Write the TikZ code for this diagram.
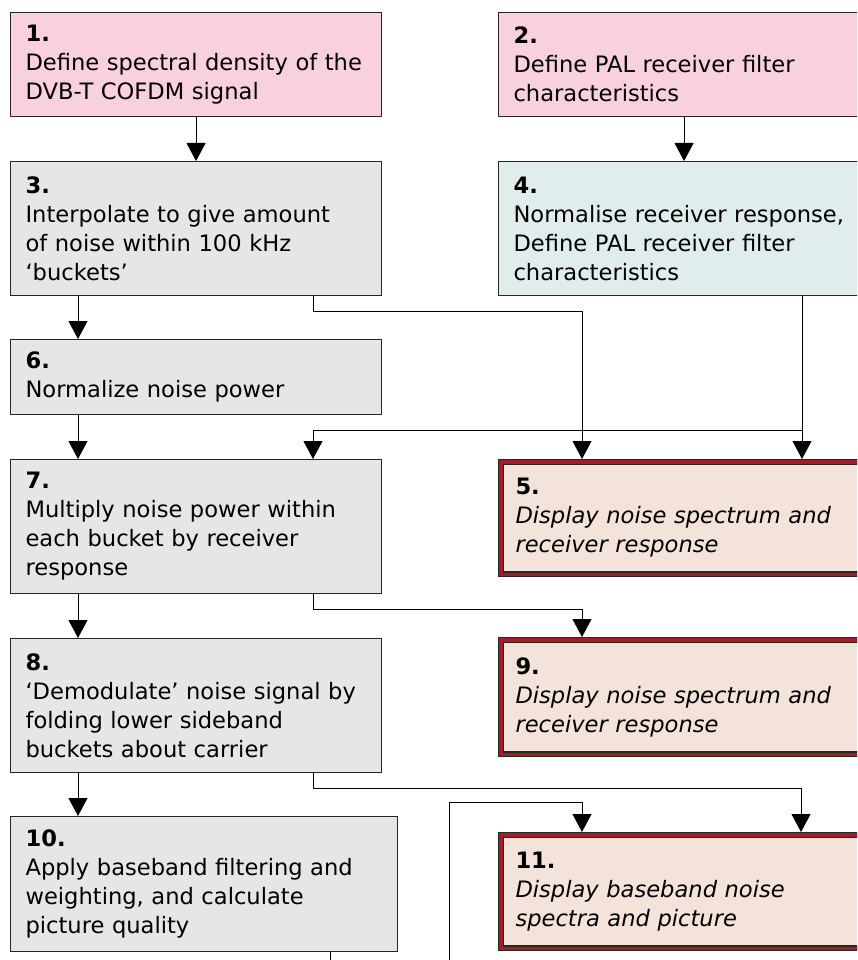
\documentclass[tikz,border=0pt]{standalone}
\usepackage{fontspec}
\setmainfont{DejaVu Sans}
\usetikzlibrary{arrows.meta}
\definecolor{boxpink}{RGB}{248,208,222}
\definecolor{boxgrey}{RGB}{230,230,230}
\definecolor{boxblue}{RGB}{225,236,236}
\definecolor{boxpeach}{RGB}{244,227,218}
\definecolor{bandred}{RGB}{165,28,40}
\tikzset{
  stage/.style={rectangle, draw=black!85, line width=1.1pt, anchor=north west, align=left,
    inner xsep=15pt, inner ysep=0pt, font=\fontsize{22.6}{29}\selectfont,
    minimum width=371pt, text width=341pt},
  define/.style={stage, fill=boxpink},
  task/.style={stage, fill=boxgrey},
  display/.style={stage, fill=boxpeach, double=bandred, double distance=3.4pt, outer sep=2.8pt,
    minimum width=365.4pt, text width=336pt, inner xsep=14.7pt,
    font=\fontsize{22.6}{29}\selectfont\itshape},
  link/.style={draw=black, line width=1pt},
  arr/.style={link, -{Triangle[width=19pt,length=18pt]}}
}
\begin{document}
\begin{tikzpicture}[x=1pt,y=-1pt]
  \useasboundingbox (0,0) rectangle (857,960);
  \clip (0,0) rectangle (857,960);
  \node[define, minimum height=104pt] (b1) at (10,12) {\textbf{1.}\\Define spectral density of the\\DVB-T COFDM signal};
  \node[define, minimum height=104pt] (b2) at (498,12) {\textbf{2.}\\Define PAL receiver filter\\characteristics};
  \node[task, minimum height=134pt] (b3) at (10,161) {\textbf{3.}\\Interpolate to give amount\\of noise within 100 kHz\\‘buckets’};
  \node[task, fill=boxblue, minimum height=134pt] (b4) at (498,161) {\textbf{4.}\\Normalise receiver response,\\Define PAL receiver filter\\characteristics};
  \node[task, minimum height=75pt] (b6) at (10,339) {\textbf{6.}\\Normalize noise power};
  \node[task, minimum height=134pt] (b7) at (10,459) {\textbf{7.}\\Multiply noise power within\\each bucket by receiver\\response};
  \node[display, minimum height=112.4pt] (b5) at (498,459) {\textbf{\upshape 5.}\\Display noise spectrum and\\receiver response};
  \node[task, minimum height=134pt] (b8) at (10,638) {\textbf{8.}\\‘Demodulate’ noise signal by\\folding lower sideband\\buckets about carrier};
  \node[display, minimum height=114.4pt] (b9) at (498,637) {\textbf{\upshape 9.}\\Display noise spectrum and\\receiver response};
  \node[task, minimum width=387pt, text width=357pt, minimum height=135pt] (b10) at (10,816) {\textbf{10.}\\Apply baseband filtering and\\weighting, and calculate\\picture quality};
  \node[display, minimum height=113.4pt] (b11) at (498,832) {\textbf{\upshape 11.}\\Display baseband noise\\spectra and picture};

  \draw[arr] (b1) -- (b3);
  \draw[arr] (b2) -- (b4);
  \draw[arr] ([xshift=68pt]b3.south west) -- ([xshift=68pt]b6.north west);
  \draw[arr] ([xshift=303pt]b3.south west) -- ++(0,15) -| ([xshift=84pt]b5.north west);
  \draw[arr] ([xshift=304pt]b4.south west) -- ([xshift=304pt]b5.north west);
  \draw[arr] ([xshift=304pt]b4.south west) ++(0,134) -| ([xshift=303pt]b7.north west);
  \draw[arr] ([xshift=68pt]b6.south west) -- ([xshift=68pt]b7.north west);
  \draw[arr] ([xshift=68pt]b7.south west) -- ([xshift=68pt]b8.north west);
  \draw[arr] ([xshift=303pt]b7.south west) -- ++(0,15) -| ([xshift=84pt]b9.north west);
  \draw[arr] ([xshift=68pt]b8.south west) -- ([xshift=68pt]b10.north west);
  \draw[arr] ([xshift=303pt]b8.south west) -- ++(0,15) -| ([xshift=303pt]b11.north west);
  \coordinate (out10) at (330,975);
  \coordinate (in11) at (449,975);
  \draw[link] ([xshift=320pt]b10.south west) -- (out10);
  \draw[arr] (in11) -- ++(0,-173) -| ([xshift=84pt]b11.north west);
\end{tikzpicture}
\end{document}
